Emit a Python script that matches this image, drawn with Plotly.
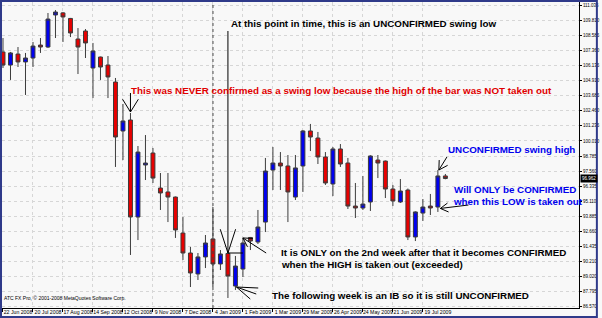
import math
import plotly.graph_objects as go

# ---------------- data (USD/JPY weekly) ----------------
date_labels = ["22 Jun 2008", "20 Jul 2008", "17 Aug 2008", "14 Sep 2008", "12 Oct 2008",
               "9 Nov 2008", "7 Dec 2008", "4 Jan 2009", "1 Feb 2009", "1 Mar 2009",
               "29 Mar 2009", "26 Apr 2009", "24 May 2009", "21 Jun 2009", "19 Jul 2009"]
date_bars = [0, 4, 8, 12, 16, 20, 24, 28, 32, 36, 40, 44, 48, 52, 56]

opens = [107.23, 106.17, 107.06, 106.42, 106.74, 107.79, 107.63, 110.23, 110.40, 109.95,
         108.28, 108.93, 105.93, 106.82, 106.17, 104.79, 100.82, 101.71, 93.84, 98.06,
         99.03, 96.19, 95.87, 95.46, 92.54, 90.92, 89.22, 90.60, 92.06, 90.03,
         90.88, 88.24, 89.62, 92.18, 91.81, 93.43, 97.65, 98.22, 97.98, 95.46,
         97.98, 100.82, 100.25, 98.71, 96.52, 99.36, 98.22, 94.73, 94.57, 95.06,
         98.46, 98.38, 96.11, 95.06, 96.03, 92.22, 94.16, 94.73, 94.65, 97.17]
highs = [108.36, 107.23, 107.63, 107.15, 108.04, 108.36, 110.39, 110.63, 110.47, 109.99,
         109.17, 109.09, 107.96, 106.85, 106.90, 105.12, 103.01, 102.28, 99.60, 100.49,
         99.44, 97.41, 97.41, 95.50, 93.84, 91.41, 90.92, 92.38, 94.65, 91.16,
         90.92, 90.68, 92.14, 92.22, 94.41, 98.63, 99.52, 99.11, 98.87, 98.87,
         100.90, 101.39, 100.74, 99.11, 99.52, 99.76, 98.63, 96.60, 97.17, 98.85,
         98.87, 98.42, 96.44, 96.92, 96.15, 94.30, 95.30, 95.71, 97.65, 97.33]
lows = [105.93, 104.96, 106.01, 103.74, 106.01, 107.15, 107.55, 108.36, 108.04, 108.44,
        105.44, 106.74, 103.49, 104.96, 103.49, 97.90, 98.46, 90.76, 91.97, 96.84,
        96.60, 94.41, 93.43, 92.14, 90.35, 88.16, 88.73, 89.70, 88.16, 89.54,
        87.27, 87.92, 88.97, 91.16, 91.65, 92.62, 96.03, 96.03, 93.43, 95.22,
        95.87, 99.19, 98.14, 96.44, 95.54, 97.90, 94.49, 93.76, 94.41, 94.33,
        97.00, 95.38, 94.73, 94.98, 91.97, 91.89, 93.52, 94.00, 94.25, 96.90]
closes = [106.17, 107.15, 106.42, 106.74, 107.71, 107.63, 109.90, 110.47, 110.07, 108.77,
          107.63, 107.96, 107.31, 106.01, 105.20, 100.33, 101.63, 93.84, 99.11, 98.22,
          97.00, 95.79, 95.46, 92.79, 90.92, 89.30, 90.60, 91.73, 90.03, 90.84,
          89.05, 89.86, 91.73, 91.89, 93.03, 97.57, 98.22, 97.98, 95.87, 97.82,
          100.82, 100.33, 98.71, 96.60, 99.36, 98.14, 94.73, 94.57, 94.89, 98.79,
          98.22, 96.11, 95.14, 95.95, 92.22, 94.25, 94.65, 94.57, 97.17, 96.962]

price_ticks = [111.035, 109.810, 108.585, 107.360, 106.135, 104.910, 103.685, 102.460,
               101.235, 100.010, 98.785, 97.560, 96.335, 95.110, 93.885, 92.660,
               91.435, 90.210, 89.020, 87.795, 86.570]
current_price = 96.962

# ---------------- geometry helpers ----------------
W, H = 602, 318
L, R, T, B = 2, 583, 2, 308
X0, DX = 3.0, 7.55
P_TOP, P_PX = 111.4457, 0.08113


def dx(px):
    return (px - X0) / DX


def dy(py):
    return P_TOP - P_PX * py


def bx(i):
    return X0 + DX * i


def by(p):
    return (P_TOP - p) / P_PX


def pxp(px):
    return (px - L) / (R - L)


def pyp(py):
    return (B - py) / (B - T)


fig = go.Figure()
fig.add_trace(go.Candlestick(
    x=list(range(len(opens))), open=opens, high=highs, low=lows, close=closes,
    increasing=dict(fillcolor="#0000f0", line=dict(color="#3c3c3c", width=1)),
    decreasing=dict(fillcolor="#e80000", line=dict(color="#3c3c3c", width=1)),
    whiskerwidth=0, hoverinfo="skip", showlegend=False))

shapes = []


def seg(p0, p1, color="black", width=1):
    shapes.append(dict(type="line", xref="x", yref="y",
                       x0=dx(p0[0]), y0=dy(p0[1]), x1=dx(p1[0]), y1=dy(p1[1]),
                       line=dict(color=color, width=width)))


def arrow(tail, tip, head, ang):
    seg(tail, tip)
    ux, uy = tail[0] - tip[0], tail[1] - tip[1]
    n = math.hypot(ux, uy)
    ux, uy = ux / n, uy / n
    for s in (-1, 1):
        a = math.radians(ang) * s
        vx = ux * math.cos(a) - uy * math.sin(a)
        vy = ux * math.sin(a) + uy * math.cos(a)
        seg(tip, (tip[0] + head * vx, tip[1] + head * vy))


# period separator (start of 2009)
sep_bar = date_bars[date_labels.index("4 Jan 2009")]
shapes.append(dict(type="line", xref="x", yref="paper", x0=sep_bar, x1=sep_bar, y0=0, y1=1,
                   line=dict(color="#404040", width=1, dash="dot")))

# "At this point in time" arrow to swing-low bar
tip_a = (bx(30), by(highs[30]))
arrow((tip_a[0], 31), tip_a, 25, 18)
seg(tip_a, (bx(32), tip_a[1]))

# "NEVER confirmed" arrow
tip_b = (bx(17), by(highs[17]) - 1)
arrow((tip_b[0], 93), tip_b, 15, 32)

# unconfirmed swing high
tip_c = (bx(58) + 1, by(highs[58]))
arrow((450, 157), tip_c, 10, 30)

# will only be confirmed (low)
tip_d = (bx(58) + 2.5, by(lows[58]) - 3.5)
arrow((471.7, 205), tip_d, 9, 30)

# 2nd week high taken out
tip_e = (bx(32), by(highs[32]))
arrow((268, 253), tip_e, 10, 30)

# following week is an IB
tip_f = (bx(31) + 1, by(opens[31]) + 1)
for end in [(260, 288), (258, 294), (252, 299)]:
    seg(tip_f, end)

# outer window border
shapes.append(dict(type="rect", xref="paper", yref="paper",
                   x0=pxp(1), x1=pxp(601), y0=pyp(317), y1=pyp(1),
                   line=dict(color="#2f3a8a", width=2), layer="above"))

FONT = "Liberation Sans, Arial, sans-serif"
texts = [
    ("At this point in time, this is an UNCONFIRMED swing low", 232, 24, "black"),
    ("This was NEVER confirmed as a swing low because the high of the bar was NOT taken out", 131, 90, "#e00000"),
    ("UNCONFIRMED swing high", 450, 149, "#0000ee"),
    ("Will ONLY be CONFIRMED", 456, 189, "#0000ee"),
    ("when this LOW is taken out", 455, 201, "#0000ee"),
    ("It is ONLY on the 2nd week after that it becomes CONFIRMED", 282, 252, "black"),
    ("when the HIGH is taken out (exceeded)", 282, 264, "black"),
    ("The following week is an IB so it is still UNCONFIRMED", 273, 295, "black"),
]
annotations = []
for txt, x, y, col in texts:
    annotations.append(dict(text="<b>" + txt + "</b>", xref="paper", yref="paper",
                            x=pxp(x), y=pyp(y), xanchor="left", yanchor="middle",
                            showarrow=False, font=dict(family=FONT, size=9.8, color=col),
                            borderpad=0))
annotations.append(dict(text="ATC FX Pro, \u00a9 2001-2008 MetaQuotes Software Corp.",
                        xref="paper", yref="paper", x=pxp(3), y=pyp(298),
                        xanchor="left", yanchor="middle", showarrow=False,
                        font=dict(family=FONT, size=5, color="black"), borderpad=0))
annotations.append(dict(text=f"{current_price:.3f}", xref="paper", yref="y",
                        x=pxp(584), y=current_price, xanchor="left", yanchor="middle",
                        showarrow=False, bgcolor="black",
                        font=dict(family=FONT, size=4.5, color="white"), borderpad=1))

fig.update_layout(
    width=W, height=H, autosize=False,
    margin=dict(l=L, r=W - R, t=T, b=H - B, pad=0),
    paper_bgcolor="#f8f8f8", plot_bgcolor="#f8f8f8",
    shapes=shapes, annotations=annotations, hovermode=False,
    xaxis=dict(range=[dx(L), dx(R)], rangeslider=dict(visible=False),
               tickvals=date_bars, ticktext=date_labels, ticks="outside", ticklen=3,
               tickcolor="black", showline=True, linecolor="black", linewidth=1,
               showgrid=True, gridcolor="#d6d6d6", griddash="dot", gridwidth=1,
               zeroline=False, ticklabelshift=15, ticklabelstandoff=-4, tickangle=0,
               tickfont=dict(family=FONT, size=5.2, color="black"), fixedrange=True),
    yaxis=dict(range=[dy(B), dy(T)], side="right", tickvals=price_ticks,
               ticktext=[f"{v:.3f}" for v in price_ticks], ticks="outside", ticklen=2,
               tickcolor="black", showline=True, linecolor="black", linewidth=1,
               showgrid=True, gridcolor="#d6d6d6", griddash="dot", gridwidth=1,
               zeroline=False, tickfont=dict(family=FONT, size=4.5, color="black"),
               fixedrange=True),
    boxgap=0.25,
)

fig.write_html("out.html", config={"displayModeBar": False, "staticPlot": True})
